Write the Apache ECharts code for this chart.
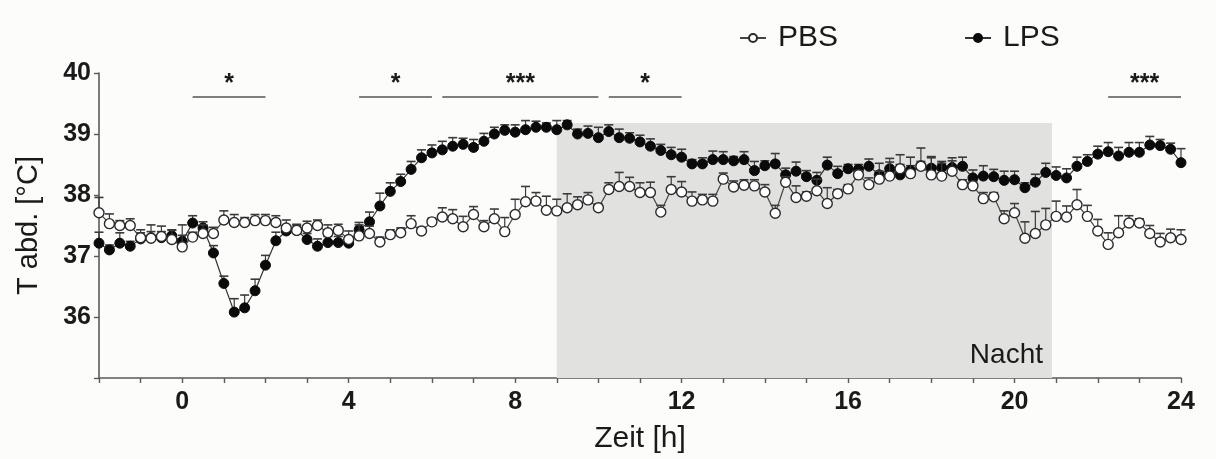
<!DOCTYPE html>
<html>
<head>
<meta charset="utf-8">
<script src="https://cdn.jsdelivr.net/npm/echarts@6/dist/echarts.min.js"></script>
<style>
  html, body { margin: 0; padding: 0; background: #fcfcfa; }
  #main { width: 1216px; height: 459px; }
</style>
</head>
<body>
<div id="main"></div>
<script>
// Zeit [h], Messpunkte alle 15 min
const zeit = [
  -2, -1.75, -1.5, -1.25, -1, -0.75, -0.5, -0.25, 0, 0.25, 0.5, 0.75, 1, 1.25, 1.5, 1.75,
  2, 2.25, 2.5, 2.75, 3, 3.25, 3.5, 3.75, 4, 4.25, 4.5, 4.75, 5, 5.25, 5.5, 5.75,
  6, 6.25, 6.5, 6.75, 7, 7.25, 7.5, 7.75, 8, 8.25, 8.5, 8.75, 9, 9.25, 9.5, 9.75,
  10, 10.25, 10.5, 10.75, 11, 11.25, 11.5, 11.75, 12, 12.25, 12.5, 12.75, 13, 13.25, 13.5, 13.75,
  14, 14.25, 14.5, 14.75, 15, 15.25, 15.5, 15.75, 16, 16.25, 16.5, 16.75, 17, 17.25, 17.5, 17.75,
  18, 18.25, 18.5, 18.75, 19, 19.25, 19.5, 19.75, 20, 20.25, 20.5, 20.75, 21, 21.25, 21.5, 21.75,
  22, 22.25, 22.5, 22.75, 23, 23.25, 23.5, 23.75, 24
];

// PBS Mittelwerte und SEM
const pbs = [
  37.71, 37.53, 37.50, 37.50, 37.30, 37.29, 37.32, 37.27, 37.15, 37.31, 37.37, 37.37, 37.59, 37.55, 37.55, 37.58,
  37.58, 37.55, 37.46, 37.42, 37.46, 37.50, 37.38, 37.42, 37.27, 37.33, 37.37, 37.23, 37.35, 37.38, 37.53, 37.41,
  37.56, 37.64, 37.61, 37.48, 37.68, 37.48, 37.61, 37.40, 37.68, 37.89, 37.90, 37.75, 37.74, 37.79, 37.84, 37.92,
  37.79, 38.09, 38.14, 38.14, 38.04, 38.04, 37.72, 38.09, 38.05, 37.90, 37.92, 37.90, 38.26, 38.13, 38.16, 38.15,
  38.05, 37.70, 38.21, 37.96, 37.98, 38.07, 37.86, 38.02, 38.10, 38.33, 38.17, 38.26, 38.31, 38.43, 38.35, 38.47,
  38.33, 38.31, 38.39, 38.17, 38.15, 37.94, 37.97, 37.61, 37.71, 37.29, 37.37, 37.51, 37.65, 37.64, 37.84, 37.65,
  37.41, 37.19, 37.38, 37.54, 37.54, 37.37, 37.23, 37.30, 37.27
];
const pbsSem = [
  0.25, 0.16, 0.08, 0.11, 0.13, 0.22, 0.17, 0.15, 0.36, 0.08, 0.14, 0.10, 0.15, 0.13, 0.08, 0.10,
  0.10, 0.11, 0.13, 0.08, 0.11, 0.09, 0.13, 0.10, 0.14, 0.18, 0.12, 0.08, 0.08, 0.08, 0.13, 0.06,
  0.06, 0.15, 0.15, 0.17, 0.13, 0.10, 0.16, 0.23, 0.25, 0.25, 0.14, 0.23, 0.19, 0.23, 0.13, 0.12,
  0.06, 0.11, 0.23, 0.15, 0.16, 0.17, 0.11, 0.21, 0.17, 0.15, 0.09, 0.11, 0.10, 0.10, 0.09, 0.10,
  0.12, 0.13, 0.09, 0.19, 0.07, 0.19, 0.26, 0.07, 0.07, 0.07, 0.11, 0.13, 0.23, 0.23, 0.27, 0.30,
  0.30, 0.21, 0.17, 0.08, 0.07, 0.10, 0.07, 0.13, 0.15, 0.27, 0.36, 0.27, 0.25, 0.18, 0.25, 0.18,
  0.19, 0.19, 0.28, 0.12, 0.07, 0.13, 0.14, 0.14, 0.16
];

// LPS Mittelwerte und SEM
const lps = [
  37.21, 37.10, 37.21, 37.16, 37.28, 37.30, 37.30, 37.33, 37.24, 37.54, 37.46, 37.05, 36.55, 36.08, 36.15, 36.43,
  36.85, 37.25, 37.41, 37.42, 37.27, 37.16, 37.22, 37.22, 37.21, 37.43, 37.56, 37.82, 38.06, 38.22, 38.42, 38.61,
  38.69, 38.74, 38.80, 38.83, 38.78, 38.88, 39.00, 39.06, 39.03, 39.07, 39.11, 39.11, 39.07, 39.15, 39.00, 39.01,
  38.94, 39.04, 38.94, 38.93, 38.87, 38.80, 38.73, 38.66, 38.62, 38.51, 38.51, 38.58, 38.58, 38.56, 38.58, 38.40,
  38.48, 38.51, 38.33, 38.39, 38.30, 38.24, 38.49, 38.35, 38.43, 38.42, 38.47, 38.33, 38.43, 38.33, 38.40, 38.48,
  38.44, 38.45, 38.45, 38.47, 38.28, 38.31, 38.30, 38.24, 38.25, 38.12, 38.21, 38.37, 38.32, 38.28, 38.47, 38.55,
  38.67, 38.71, 38.64, 38.70, 38.70, 38.82, 38.81, 38.75, 38.53
];
const lpsSem = [
  0.18, 0.08, 0.17, 0.08, 0.10, 0.10, 0.10, 0.10, 0.10, 0.12, 0.10, 0.12, 0.12, 0.22, 0.21, 0.19,
  0.16, 0.14, 0.08, 0.10, 0.10, 0.12, 0.10, 0.10, 0.10, 0.12, 0.16, 0.21, 0.14, 0.12, 0.13, 0.13,
  0.13, 0.14, 0.14, 0.10, 0.13, 0.13, 0.11, 0.09, 0.12, 0.15, 0.10, 0.07, 0.15, 0.07, 0.08, 0.12,
  0.17, 0.11, 0.14, 0.09, 0.11, 0.12, 0.10, 0.12, 0.13, 0.07, 0.10, 0.14, 0.13, 0.07, 0.13, 0.15,
  0.08, 0.17, 0.11, 0.15, 0.10, 0.13, 0.13, 0.12, 0.07, 0.08, 0.12, 0.19, 0.17, 0.17, 0.08, 0.07,
  0.17, 0.10, 0.16, 0.15, 0.13, 0.17, 0.12, 0.15, 0.14, 0.08, 0.13, 0.15, 0.14, 0.15, 0.15, 0.11,
  0.13, 0.15, 0.14, 0.16, 0.16, 0.14, 0.10, 0.10, 0.23
];

// Signifikanzbalken
const sigStart = [0.25, 4.25, 6.25, 10.25, 22.25];
const sigEnd = [2, 6, 10, 12, 24];
const sigLabel = ['*', '*', '***', '*', '***'];
const sigY = 39.61;

// Nacht
const nachtStart = 9;
const nachtEnd = 20.9;
const nachtTop = 39.18;

const FONT = 'Liberation Sans, Arial, Helvetica, sans-serif';
const TXT = '#1a1a1a';
const AX = '#5a5a5a';

function pairs(ys) {
  return zeit.map(function (t, i) { return [t, ys[i]]; });
}
function errData(ys, sem) {
  return zeit.map(function (t, i) { return [t, ys[i], +(ys[i] + sem[i]).toFixed(2)]; });
}
function errRender(params, api) {
  const lo = api.coord([api.value(0), api.value(1)]);
  const hi = api.coord([api.value(0), api.value(2)]);
  return {
    type: 'group',
    children: [
      { type: 'line', shape: { x1: lo[0], y1: lo[1], x2: hi[0], y2: hi[1] },
        style: { stroke: '#3a3a3a', lineWidth: 1.2 } },
      { type: 'line', shape: { x1: hi[0] - 4.5, y1: hi[1], x2: hi[0] + 4.5, y2: hi[1] },
        style: { stroke: '#3a3a3a', lineWidth: 1.6 } }
    ]
  };
}

const sigLines = sigStart.map(function (s, i) {
  return [
    { coord: [s, sigY], label: { formatter: sigLabel[i] } },
    { coord: [sigEnd[i], sigY] }
  ];
});

const chart = echarts.init(document.getElementById('main'));
chart.setOption({
  backgroundColor: '#fcfcfa',
  animation: false,
  textStyle: { fontFamily: FONT },
  legend: {
    data: ['PBS', 'LPS'],
    left: 734,
    top: 18,
    itemWidth: 26,
    itemHeight: 10,
    itemGap: 126,
    textStyle: { fontSize: 30, color: TXT, fontFamily: FONT, padding: [0, 0, 0, 7] }
  },
  grid: { left: 99, right: 35, top: 73, bottom: 79 },
  xAxis: {
    type: 'value',
    min: -2,
    max: 24,
    interval: 1,
    name: 'Zeit [h]',
    nameLocation: 'middle',
    nameGap: 46,
    nameTextStyle: { fontSize: 30, color: TXT, fontFamily: FONT },
    axisLine: { onZero: false, lineStyle: { color: AX, width: 1.6 } },
    axisTick: { length: 5, lineStyle: { color: AX, width: 1.4 } },
    splitLine: { show: false },
    axisLabel: {
      fontSize: 25, fontWeight: 'bold', color: TXT, margin: 12, fontFamily: FONT,
      formatter: function (v) { return (v >= 0 && v % 4 === 0) ? String(v) : ''; }
    }
  },
  yAxis: {
    type: 'value',
    min: 35,
    max: 40,
    interval: 1,
    name: 'T abd. [°C]',
    nameLocation: 'middle',
    nameGap: 56,
    nameRotate: 90,
    nameTextStyle: { fontSize: 29, color: TXT, fontFamily: FONT },
    axisLine: { show: true, onZero: false, lineStyle: { color: AX, width: 1.6 } },
    axisTick: { show: true, length: 5, lineStyle: { color: AX, width: 1.4 } },
    splitLine: { show: false },
    axisLabel: {
      fontSize: 25, fontWeight: 'bold', color: TXT, margin: 8, fontFamily: FONT,
      formatter: function (v) { return v === 35 ? '' : String(v); }
    }
  },
  series: [
    {
      name: 'bg',
      type: 'line',
      data: [],
      z: 0,
      silent: true,
      markArea: {
        silent: true,
        itemStyle: { color: '#e1e1df' },
        label: {
          show: true, position: 'insideBottomRight', distance: 9, formatter: 'Nacht',
          fontSize: 28, color: TXT, fontFamily: FONT
        },
        data: [[{ name: 'Nacht', coord: [nachtStart, 35] }, { coord: [nachtEnd, nachtTop] }]]
      },
      markLine: {
        silent: true,
        symbol: ['none', 'none'],
        lineStyle: { color: '#555', width: 1.6, type: 'solid' },
        label: {
          show: true, position: 'insideMiddleTop', distance: 0,
          fontSize: 25, fontWeight: 'bold', color: TXT, fontFamily: FONT
        },
        data: sigLines
      }
    },
    {
      name: 'LPS-SEM',
      type: 'custom',
      renderItem: errRender,
      encode: { x: 0, y: [1, 2] },
      data: errData(lps, lpsSem),
      z: 1,
      silent: true
    },
    {
      name: 'LPS',
      type: 'line',
      data: pairs(lps),
      symbol: 'circle',
      symbolSize: 10,
      showAllSymbol: true,
      lineStyle: { color: '#333', width: 1.2 },
      itemStyle: { color: '#0a0a0a', borderColor: '#0a0a0a', borderWidth: 1 },
      z: 2
    },
    {
      name: 'PBS-SEM',
      type: 'custom',
      renderItem: errRender,
      encode: { x: 0, y: [1, 2] },
      data: errData(pbs, pbsSem),
      z: 3,
      silent: true
    },
    {
      name: 'PBS',
      type: 'line',
      data: pairs(pbs),
      symbol: 'circle',
      symbolSize: 10,
      showAllSymbol: true,
      lineStyle: { color: '#444', width: 1.2 },
      itemStyle: { color: '#ffffff', borderColor: '#2a2a2a', borderWidth: 1.4 },
      z: 4
    }
  ]
});
window.addEventListener('resize', function () { chart.resize(); });
</script>
</body>
</html>
